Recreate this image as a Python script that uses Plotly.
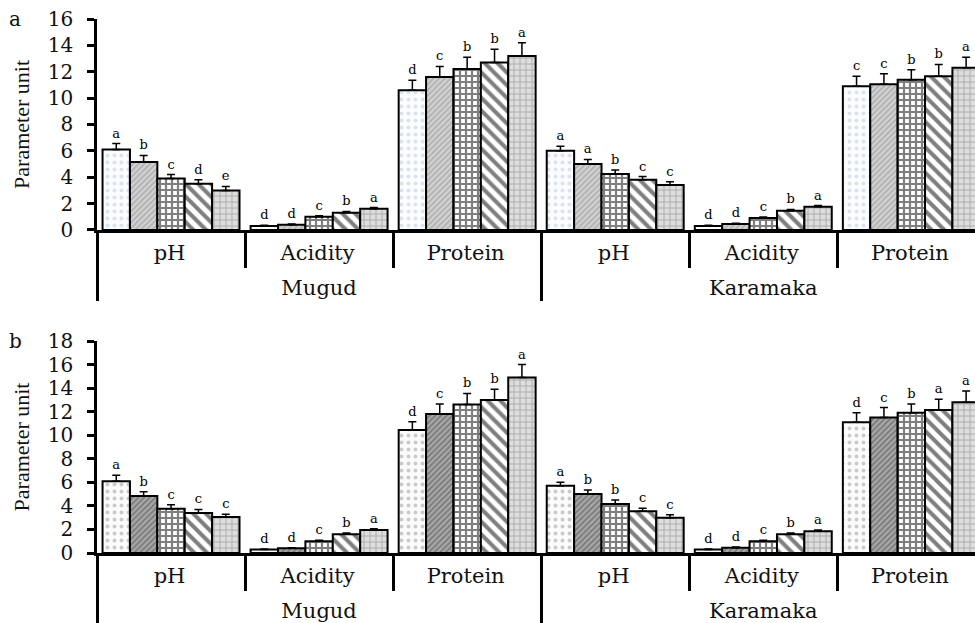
import plotly.graph_objects as go

# ---------------- data ----------------
groups = ["Mugud", "Mugud", "Mugud", "Karamaka", "Karamaka", "Karamaka"]
params = ["pH", "Acidity", "Protein", "pH", "Acidity", "Protein"]
series_names = ["T1", "T2", "T3", "T4", "T5"]

# panel a
a_vals = [
    [6.1, 0.3, 10.6, 6.0, 0.3, 10.9],
    [5.15, 0.4, 11.6, 5.0, 0.45, 11.05],
    [3.9, 1.0, 12.2, 4.25, 0.9, 11.4],
    [3.5, 1.3, 12.7, 3.8, 1.45, 11.65],
    [3.0, 1.6, 13.2, 3.4, 1.75, 12.3],
]
a_err = [
    [0.45, 0.05, 0.75, 0.35, 0.05, 0.75],
    [0.5, 0.05, 0.8, 0.35, 0.05, 0.8],
    [0.3, 0.08, 0.9, 0.3, 0.08, 0.75],
    [0.3, 0.1, 1.0, 0.25, 0.1, 0.9],
    [0.3, 0.1, 1.0, 0.25, 0.1, 0.8],
]
a_letters = [
    ["a", "d", "d", "a", "d", "c"],
    ["b", "d", "c", "a", "d", "c"],
    ["c", "c", "b", "b", "c", "b"],
    ["d", "b", "b", "c", "b", "b"],
    ["e", "a", "a", "c", "a", "a"],
]

# panel b
b_vals = [
    [6.1, 0.3, 10.45, 5.7, 0.3, 11.1],
    [4.85, 0.4, 11.8, 5.0, 0.45, 11.5],
    [3.75, 1.0, 12.6, 4.15, 1.0, 11.9],
    [3.4, 1.6, 13.0, 3.55, 1.6, 12.15],
    [3.05, 1.95, 14.9, 3.0, 1.85, 12.8],
]
b_err = [
    [0.5, 0.05, 0.7, 0.3, 0.05, 0.8],
    [0.35, 0.05, 0.85, 0.35, 0.05, 0.85],
    [0.35, 0.08, 0.95, 0.35, 0.08, 0.75],
    [0.3, 0.1, 0.9, 0.25, 0.1, 0.9],
    [0.25, 0.1, 1.1, 0.25, 0.1, 0.95],
]
b_letters = [
    ["a", "d", "d", "a", "d", "d"],
    ["b", "d", "c", "b", "d", "c"],
    ["c", "c", "b", "b", "c", "b"],
    ["c", "b", "b", "c", "b", "a"],
    ["c", "a", "a", "c", "a", "a"],
]

a_yticks = [0, 2, 4, 6, 8, 10, 12, 14, 16]
b_yticks = [0, 2, 4, 6, 8, 10, 12, 14, 16, 18]

# ---------------- styles ----------------
SERIF = "DejaVu Serif"
patterns_a = [
    dict(shape=".", fgcolor="#b9c9dd", bgcolor="#fbfcfe", size=7, solidity=0.25),
    dict(shape="/", fgcolor="#8a8a8a", bgcolor="#d2d2d2", size=4, solidity=0.4),
    dict(shape="+", fgcolor="#000000", bgcolor="#ffffff", size=6, solidity=0.6),
    dict(shape="\\", fgcolor="#000000", bgcolor="#ffffff", size=9, solidity=0.45),
    dict(shape="+", fgcolor="#7a7a7a", bgcolor="#dedede", size=6, solidity=0.3),
]
patterns_b = [
    dict(shape=".", fgcolor="#9a9a9a", bgcolor="#fbfbfb", size=7, solidity=0.25),
    dict(shape="/", fgcolor="#444444", bgcolor="#a8a8a8", size=4, solidity=0.4),
    dict(shape="+", fgcolor="#000000", bgcolor="#ffffff", size=6, solidity=0.6),
    dict(shape="\\", fgcolor="#000000", bgcolor="#ffffff", size=9, solidity=0.45),
    dict(shape="+", fgcolor="#7a7a7a", bgcolor="#dedede", size=6, solidity=0.3),
]

# inner-level labels get a tall hair-space so that the outer level sits lower
spacer = "<span style='font-size:30px'>&#8202;</span>"
x_mc = [groups, [p + spacer for p in params]]

fig = go.Figure()


def add_panel(vals, errs, letters, pats, xa, ya):
    for i in range(len(vals)):
        fig.add_trace(go.Bar(
            x=x_mc, y=vals[i], name=series_names[i], offsetgroup=str(i),
            xaxis=xa, yaxis=ya, showlegend=False,
            marker=dict(pattern=pats[i], line=dict(color="black", width=2)),
            error_y=dict(type="data", array=errs[i], arrayminus=[0] * len(errs[i]),
                         symmetric=False, color="black", thickness=1.5, width=4),
        ))
    # letters placed above the error-bar tops, sharing each series' bar slot
    for i in range(len(vals)):
        tops = [v + e for v, e in zip(vals[i], errs[i])]
        fig.add_trace(go.Bar(
            x=x_mc, y=[0.0001] * len(tops), base=tops, offsetgroup=str(i),
            xaxis=xa, yaxis=ya, showlegend=False, hoverinfo="skip",
            marker=dict(color="rgba(0,0,0,0)", line=dict(width=0)),
            text=letters[i], textposition="outside", constraintext="none",
            cliponaxis=False,
            textfont=dict(family=SERIF, size=13, color="black"),
        ))


add_panel(a_vals, a_err, a_letters, patterns_a, "x", "y")
add_panel(b_vals, b_err, b_letters, patterns_b, "x2", "y2")

xcommon = dict(
    type="multicategory", range=[-0.5, 5.43], automargin=False,
    showline=True, linecolor="black", linewidth=2.5,
    ticks="outside", tickson="boundaries", ticklen=35, tickwidth=2.5, tickcolor="black",
    showdividers=True, dividercolor="black", dividerwidth=2.5,
    tickfont=dict(family=SERIF, size=21, color="#111"),
    ticklabelstandoff=2,
    showgrid=False, zeroline=False, fixedrange=True,
)
ycommon = dict(
    automargin=False,
    showline=True, linecolor="black", linewidth=2.5,
    ticks="outside", ticklen=7, tickwidth=2.5, tickcolor="black",
    tickfont=dict(family=SERIF, size=20, color="#111"),
    ticklabelstandoff=10,
    showgrid=False, zeroline=False,
    title=dict(text="Parameter unit", font=dict(family="Liberation Serif", size=22, color="#111"),
               standoff=13),
)

fig.update_layout(
    width=975, height=623,
    margin=dict(l=97, r=0, t=19, b=70),
    plot_bgcolor="white", paper_bgcolor="white",
    barmode="group", bargap=0.075, bargroupgap=0,
    xaxis=dict(xcommon, domain=[0, 1], anchor="y"),
    yaxis=dict(ycommon, domain=[0.605, 1.0], anchor="x", range=[0, 16],
               tickvals=a_yticks),
    xaxis2=dict(xcommon, domain=[0, 1], anchor="y2"),
    yaxis2=dict(ycommon, domain=[0.0, 0.397], anchor="x2", range=[0, 18],
                tickvals=b_yticks),
    annotations=[
        dict(text="a", xref="paper", yref="paper", x=-0.093, y=1.0, showarrow=False,
             xanchor="center", yanchor="middle", font=dict(family=SERIF, size=20, color="#111")),
        dict(text="b", xref="paper", yref="paper", x=-0.093, y=0.397, showarrow=False,
             xanchor="center", yanchor="middle", font=dict(family=SERIF, size=20, color="#111")),
    ],
)

fig.write_html("out.html", config={"displayModeBar": False},
               post_script="document.body.style.margin='0';document.body.style.overflow='hidden';")
